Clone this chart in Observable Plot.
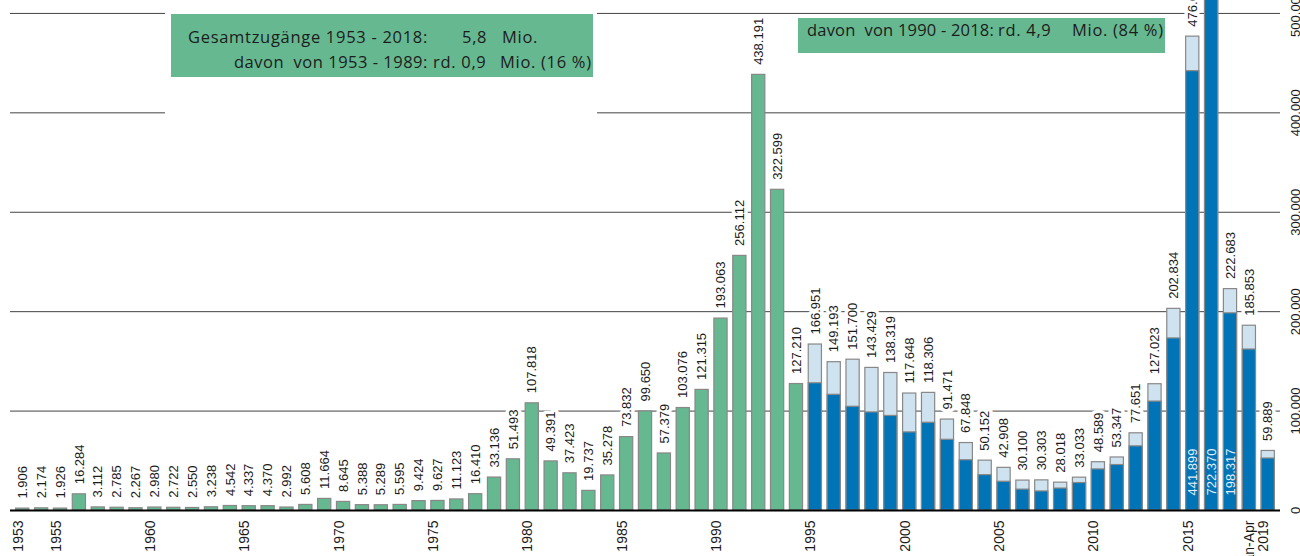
<!DOCTYPE html>
<html><head><meta charset="utf-8">
<script src="https://cdn.jsdelivr.net/npm/d3@7"></script>
<script src="https://cdn.jsdelivr.net/npm/@observablehq/plot@0.6"></script>
<style>
body{margin:0;background:#fff}
#wrap{position:relative;width:1300px;height:556px;overflow:hidden}
.t{position:absolute;font-family:"Open Sans",sans-serif;font-size:16.5px;line-height:16px;letter-spacing:0.7px;color:#1c1c1c;white-space:pre}
.box{position:absolute;background:#66b891}
</style></head><body><div id="wrap"></div>
<script>
const years = d3.range(1953, 2020).map(String);
const totals = [1906,2174,1926,16284,3112,2785,2267,2980,2722,2550,3238,4542,4337,4370,2992,5608,11664,8645,5388,5289,5595,9424,9627,11123,16410,33136,51493,107818,49391,37423,19737,35278,73832,99650,57379,103076,121315,193063,256112,438191,322599,127210,
166951,149193,151700,143429,138319,117648,118306,91471,67848,50152,42908,30100,30303,28018,33033,48589,53347,77651,127023,202834,476649,745545,222683,185853,59889];
const firstTime = [127937,116367,104353,98644,95113,78564,88287,71127,50563,35607,28914,21029,19164,22085,27649,41332,45741,64539,109580,173072,441899,722370,198317,161931,52300];
const firstTimeStartYear = "1995";
const insideLabelYears = ["2015","2016","2017"];
const xTickYears = ["1953","1955","1960","1965","1970","1975","1980","1985","1990","1995","2000","2005","2010","2015","2019"];
const xTickLabels = ["1953","1955","1960","1965","1970","1975","1980","1985","1990","1995","2000","2005","2010","2015","Jan-Apr\n2019"];
const yTicks = [0,100000,200000,300000,400000,500000];

const green = "#66b891", dark = "#0074b6", light = "#cfe2ef", outline = "#888";
const de = d3.formatLocale({decimal: ",", thousands: ".", grouping: [3], currency: ["", " €"]});
const fmt = de.format(",d");

const startIdx = years.indexOf(firstTimeStartYear);
const rows = years.map((year, i) => ({year, total: totals[i], first: i >= startIdx ? firstTime[i - startIdx] : null}));
const greenRows = rows.filter(d => d.first == null);
const blueRows = rows.filter(d => d.first != null);
const insideRows = rows.filter(d => insideLabelYears.includes(d.year));
const xTicks = xTickYears.map((year, i) => ({year, label: xTickLabels[i]}));

const font = "'Liberation Sans', Arial, sans-serif";

const chart = Plot.plot({
  width: 1300, height: 556,
  marginTop: 0, marginBottom: 46, marginLeft: 10, marginRight: 20,
  x: {type: "band", domain: years, paddingInner: 0.3, paddingOuter: 0.3, axis: null},
  y: {domain: [0, 513000], axis: null},
  style: {fontFamily: font, background: "white"},
  marks: [
    Plot.ruleY(yTicks.slice(1), {stroke: "#444", strokeWidth: 1}),
    Plot.text(rows, {x: "year", y: "total", text: d => fmt(d.total), rotate: -90, textAnchor: "start", dy: -10,
      fontSize: 13, fill: "#1a1a1a", stroke: "white", strokeWidth: 7, paintOrder: "stroke", strokeLinejoin: "round"}),
    Plot.barY(greenRows, {x: "year", y: "total", fill: green, stroke: outline, strokeWidth: 1.2, clip: true}),
    Plot.barY(blueRows, {x: "year", y: "total", fill: light, stroke: outline, strokeWidth: 1.2, clip: true}),
    Plot.barY(blueRows, {x: "year", y: "first", fill: dark, stroke: outline, strokeWidth: 1.2, clip: true}),
    Plot.ruleY([0], {stroke: "#000", strokeWidth: 2}),
    Plot.text(insideRows, {x: "year", y: () => 0, text: d => fmt(d.first), rotate: -90, textAnchor: "start", dy: -15,
      fontSize: 13, fill: "#e4eef8"}),
    Plot.text(xTicks, {x: "year", text: "label", frameAnchor: "bottom", rotate: -90, textAnchor: "end", dy: 10,
      fontSize: 14, fill: "#1a1a1a", lineHeight: 1}),
    Plot.text(yTicks, {y: d => d, text: d => fmt(d), frameAnchor: "right", rotate: -90, textAnchor: "middle", dx: 15,
      fontSize: 13, fill: "#1a1a1a"})
  ]
});
const wrap = document.getElementById("wrap");
wrap.appendChild(chart);

function add(html) { wrap.insertAdjacentHTML("beforeend", html); }
add(`<div style="position:absolute;left:165px;top:11px;width:432px;height:104px;background:#fff"></div>`);
add(`<div class="box" style="left:171px;top:14px;width:422px;height:63px"></div>`);
add(`<div class="box" style="left:798px;top:18px;width:367px;height:35px"></div>`);
// box 1 text
add(`<span class="t" style="left:188px;top:29px">Gesamtzugänge 1953 - 2018:</span>`);
add(`<span class="t" style="left:462px;top:29px">5,8</span>`);
add(`<span class="t" style="left:502px;top:29px">Mio.</span>`);
add(`<span class="t" style="left:234px;top:54px;letter-spacing:0.5px">davon  von 1953 - 1989:</span>`);
add(`<span class="t" style="left:433px;top:54px">rd. 0,9</span>`);
add(`<span class="t" style="left:500px;top:54px">Mio. (16 %)</span>`);
// box 2 text
add(`<span class="t" style="left:807px;top:22px;letter-spacing:0.2px">davon  von 1990 - 2018:</span>`);
add(`<span class="t" style="left:998px;top:22px">rd. 4,9</span>`);
add(`<span class="t" style="left:1072px;top:22px">Mio. (84 %)</span>`);
</script></body></html>
